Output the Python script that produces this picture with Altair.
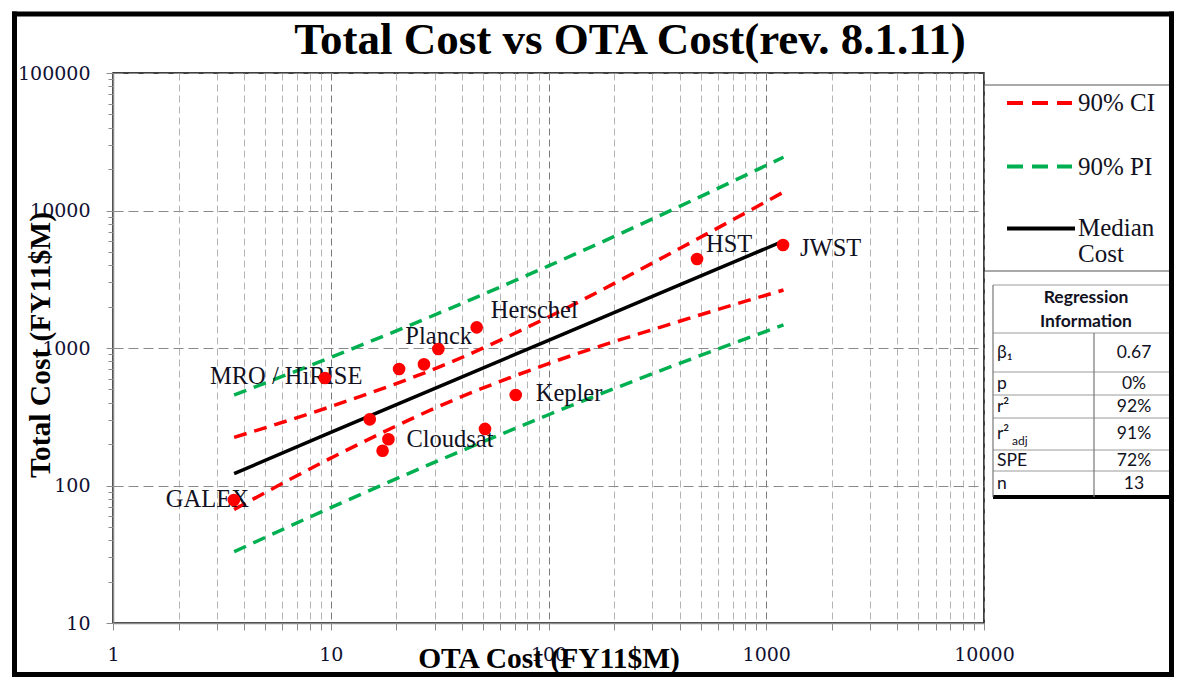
import altair as alt
import pandas as pd

# ---------------- data ----------------
ota_cost = [3.59, 9.41, 20.6, 26.8, 31.2, 46.8, 15.1, 18.4, 17.3, 51.1, 70.7, 481, 1194]
total_cost = [78.5, 605, 703, 761, 984, 1413, 303, 217, 179, 258, 455, 4437, 5610]
point_names = ["GALEX", "MRO / HiRISE", "", "", "Planck", "Herschel", "", "Cloudsat",
               "", "", "Kepler", "HST", "JWST"]

line_x = [3.6, 10, 37, 100, 400, 1200]
median_cost = [122, 243, 584, 1137, 2878, 6000]
ci_upper = [224, 375, 809, 1681, 5290, 13610]
ci_lower = [67, 158, 421, 770, 1566, 2642]
pi_upper = [455, 855, 2000, 3954, 10715, 24430]
pi_lower = [33, 69, 170, 327, 773, 1472]

x_decades = [1, 10, 100, 1000, 10000]
y_decades = [10, 100, 1000, 10000, 100000]
x_ticks = [m * d for d in x_decades[:-1] for m in range(1, 10)] + [x_decades[-1]]
y_ticks = [m * d for d in y_decades[:-1] for m in range(1, 10)] + [y_decades[-1]]

legend_labels = ["90% CI", "90% PI", "Median", "Cost"]
table_header = ["Regression", "Information"]
table_keys = ["β₁", "p", "r²", "r²", "SPE", "n"]
table_values = ["0.67", "0%", "92%", "91%", "72%", "13"]

title_text = "Total Cost vs OTA Cost(rev. 8.1.11)"
x_title = "OTA Cost (FY11$M)"
y_title = "Total Cost (FY11$M)"

# ---------------- tables ----------------
points = pd.DataFrame({"ota": ota_cost, "total": total_cost, "name": point_names})
lines = pd.concat([
    pd.DataFrame({"ota": line_x, "total": vals, "series": s})
    for s, vals in [("median", median_cost), ("ciu", ci_upper), ("cil", ci_lower),
                    ("piu", pi_upper), ("pil", pi_lower)]
])
one = pd.DataFrame({"k": [0]})

SERIF = "Liberation Serif"
TICKFONT = "DejaVu Serif"
SANS = "Lato"
RED = "#ff0000"
GREEN = "#00b050"

xdec_test = "indexof([1,10,100,1000,10000], datum.value) >= 0"
ydec_test = "indexof([10,100,1000,10000,100000], datum.value) >= 0"

x_axis = alt.Axis(
    values=x_ticks,
    labelExpr=f"{xdec_test} ? format(datum.value, 'd') : ''",
    grid=True,
    gridDash=[7, 4],
    gridWidth=1,
    gridColor={"condition": {"test": xdec_test, "value": "#7a7a7a"}, "value": "#b4b4b4"},
    tickSize=7,
    tickColor="#8c8c8c",
    domainColor="#8c8c8c",
    domainWidth=1.5,
    labelFont=TICKFONT,
    labelFontSize=19,
    labelColor="#111133",
    labelPadding=15,
    labelFlush=False,
    labelOverlap=False,
    title=None,
)
y_axis = alt.Axis(
    values=y_ticks,
    labelExpr=f"{ydec_test} ? format(datum.value, 'd') : ''",
    grid=True,
    gridDash=[10, 5],
    gridWidth=1,
    gridColor="#8a8a8a",
    gridOpacity={"condition": {"test": ydec_test, "value": 1}, "value": 0},
    tickSize={"condition": {"test": ydec_test, "value": 7}, "value": 5},
    tickColor="#8c8c8c",
    domainColor="#8c8c8c",
    domainWidth=1.5,
    labelFont=TICKFONT,
    labelFontSize=19,
    labelColor="#111133",
    labelPadding=16,
    labelFlush=False,
    labelOverlap=False,
    title=None,
)

def X():
    return alt.X("ota:Q", scale=alt.Scale(type="log", domain=[1, 10000], nice=False), axis=x_axis)

def Y():
    return alt.Y("total:Q", scale=alt.Scale(type="log", domain=[10, 100000], nice=False), axis=y_axis)

layers = []

# regression lines
styles = {
    "piu": GREEN, "pil": GREEN,
    "ciu": RED, "cil": RED,
}
for s, col in styles.items():
    layers.append(
        alt.Chart(lines).transform_filter(alt.datum.series == s)
        .mark_line(color=col, strokeWidth=3.5, strokeDash=[13, 8], interpolate="monotone", clip=True)
        .encode(x=X(), y=Y())
    )
layers.append(
    alt.Chart(lines).transform_filter(alt.datum.series == "median")
    .mark_line(color="black", strokeWidth=3.5)
    .encode(x=X(), y=Y())
)

# point labels
label_offsets = {
    "GALEX": (-68, 0), "MRO / HiRISE": (-115, -1), "Planck": (-33, -12),
    "Herschel": (14, -16), "Kepler": (20, -1), "Cloudsat": (18, 1),
    "HST": (9, -14), "JWST": (17, 4),
}
for n, (dx, dy) in label_offsets.items():
    layers.append(
        alt.Chart(points).transform_filter(alt.datum.name == n)
        .mark_text(font=SERIF, fontSize=24.5, color="#111122", align="left",
                   baseline="middle", dx=dx, dy=dy)
        .encode(x=X(), y=Y(), text="name:N")
    )

# points
layers.append(
    alt.Chart(points).mark_circle(color=RED, size=160, opacity=1)
    .encode(x=X(), y=Y())
)

# ---------------- decorations in pixel space ----------------
def hrule(x1, x2, y, color="black", width=1.0, dash=None):
    kw = dict(color=color, strokeWidth=width)
    if dash:
        kw["strokeDash"] = dash
    return alt.Chart(one).mark_rule(**kw).encode(
        x=alt.value(x1), x2=alt.value(x2), y=alt.value(y), y2=alt.value(y))

def vrule(x, y1, y2, color="black", width=1.0):
    return alt.Chart(one).mark_rule(color=color, strokeWidth=width).encode(
        x=alt.value(x), x2=alt.value(x), y=alt.value(y1), y2=alt.value(y2))

def txt(s, x, y, size, font=SERIF, weight="normal", align="left", baseline="middle", angle=0,
        color="#111122"):
    kw = dict(font=font, fontSize=size, fontWeight=weight, align=align, baseline=baseline,
              color=color)
    if angle:
        kw["angle"] = angle
    return alt.Chart(pd.DataFrame({"t": [s]})).mark_text(**kw).encode(
        x=alt.value(x), y=alt.value(y), text="t:N")

# outer frame
layers += [
    vrule(-98.5, -61.5, 604, width=5),
    vrule(1058.5, -61.5, 604, width=5),
    hrule(-101, 1061, -59, width=5),
    hrule(-101, 1061, 601.5, width=5),
]

# titles
layers += [
    txt(title_text, 517, -19, 45, weight="bold", align="center", baseline="alphabetic",
        color="black"),
    txt(x_title, 436, 586, 29.5, weight="bold", align="center", baseline="middle", color="black"),
    txt(y_title, -72, 272, 29.5, weight="bold", align="center", baseline="middle", angle=270,
        color="black"),
]

# legend box
layers += [
    hrule(871, 1056, 12, color="#555555", width=1.2),
    hrule(871, 1056, 198, color="#555555", width=1.2),
    hrule(894, 959, 30, color=RED, width=4, dash=[16, 9]),
    hrule(894, 959, 93.5, color=GREEN, width=4, dash=[16, 9]),
    hrule(894, 962, 155.5, color="black", width=4),
    txt(legend_labels[0], 965, 30, 25),
    txt(legend_labels[1], 965, 93.5, 25),
    txt(legend_labels[2], 965, 155, 25),
    txt(legend_labels[3], 965, 181, 25),
]

# regression table
row_lines = [212, 260, 299, 322, 345, 377, 398]
for y in row_lines:
    layers.append(hrule(880, 1056, y, color="#9a9a9a", width=1))
layers += [
    hrule(880, 1056, 424, color="black", width=4),
    vrule(880, 212, 424, color="#777777", width=1.2),
    vrule(981, 260, 424, color="#777777", width=1.2),
    txt(table_header[0], 973, 225, 17.5, font=SANS, weight="bold", align="center"),
    txt(table_header[1], 973, 249, 17.5, font=SANS, weight="bold", align="center"),
]
row_centers = [279.5, 310.5, 333.5, 361, 387.5, 411]
for k, v, yc in zip(table_keys, table_values, row_centers):
    layers.append(txt(k, 884, yc, 17.5, font=SANS))
    layers.append(txt(v, 1021, yc, 17.5, font=SANS, align="center"))
layers.append(txt("adj", 899, 368, 12, font=SANS))

chart = alt.layer(*layers).properties(
    width=871,
    height=550,
    autosize=alt.AutoSizeParams(type="none"),
    padding={"left": 105, "top": 65, "right": 190, "bottom": 55},
    background="white",
).configure_view(stroke="black", strokeWidth=1.5)

chart.save("out.html", embed_options={"renderer": "svg", "actions": False})
